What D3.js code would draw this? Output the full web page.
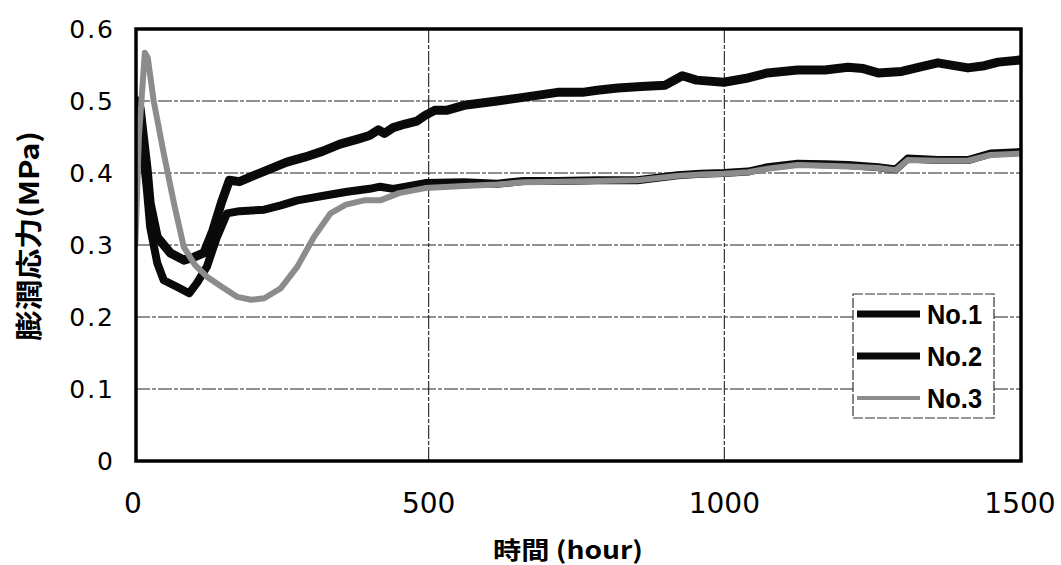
<!DOCTYPE html>
<html><head><meta charset="utf-8">
<script src="https://cdn.jsdelivr.net/npm/d3@7"></script>
<style>body{margin:0;background:#fff}</style>
</head><body>
<svg id="c" width="1061" height="565"></svg>
<script>
const seriesNames = ["No.1", "No.2", "No.3"];
const xTicks = [0, 500, 1000, 1500];
const yTicks = [0, 0.1, 0.2, 0.3, 0.4, 0.5, 0.6];
const yTickLabels = ["0", "0.1", "0.2", "0.3", "0.4", "0.5", "0.6"];

const no1T = [4, 8, 12, 24, 29, 41, 63, 86, 103, 120, 135, 150, 163, 180, 200, 230, 260, 290, 320, 350, 380, 400, 415, 425, 440, 460, 480, 494, 510, 530, 560, 616, 660, 718, 760, 785, 820, 860, 900, 929, 953, 999, 1040, 1073, 1124, 1170, 1209, 1235, 1260, 1300, 1330, 1361, 1412, 1440, 1463, 1500];
const no1V = [0.45, 0.50, 0.49, 0.404, 0.358, 0.311, 0.289, 0.279, 0.283, 0.289, 0.32, 0.36, 0.39, 0.388, 0.395, 0.405, 0.415, 0.422, 0.43, 0.44, 0.447, 0.452, 0.46, 0.455, 0.463, 0.468, 0.472, 0.48, 0.487, 0.487, 0.494, 0.50, 0.505, 0.512, 0.512, 0.515, 0.518, 0.52, 0.522, 0.535, 0.529, 0.526, 0.532, 0.539, 0.543, 0.543, 0.547, 0.545, 0.539, 0.541, 0.547, 0.553, 0.546, 0.549, 0.554, 0.557];

const no2T = [4, 10, 12, 24, 29, 41, 52, 74, 95, 108, 125, 142, 159, 180, 222, 250, 278, 320, 362, 400, 418, 440, 494, 560, 616, 660, 718, 785, 853, 921, 960, 999, 1040, 1073, 1124, 1170, 1209, 1260, 1290, 1310, 1361, 1412, 1450, 1500];
const no2V = [0.42, 0.48, 0.47, 0.372, 0.325, 0.275, 0.251, 0.242, 0.233, 0.247, 0.27, 0.311, 0.344, 0.347, 0.349, 0.355, 0.362, 0.368, 0.374, 0.378, 0.381, 0.378, 0.386, 0.387, 0.385, 0.389, 0.389, 0.39, 0.39, 0.397, 0.399, 0.40, 0.402, 0.408, 0.413, 0.412, 0.411, 0.408, 0.405, 0.42, 0.418, 0.418, 0.427, 0.429];

const no3T = [4, 10, 20, 25, 35, 52, 70, 86, 105, 125, 150, 176, 200, 222, 250, 278, 306, 334, 360, 391, 418, 450, 494, 560, 616, 660, 718, 785, 853, 921, 960, 999, 1040, 1073, 1124, 1170, 1209, 1260, 1290, 1310, 1361, 1412, 1450, 1500];
const no3V = [0.30, 0.45, 0.567, 0.56, 0.50, 0.427, 0.355, 0.297, 0.272, 0.256, 0.242, 0.228, 0.224, 0.226, 0.24, 0.27, 0.311, 0.344, 0.356, 0.362, 0.362, 0.372, 0.379, 0.382, 0.384, 0.387, 0.388, 0.389, 0.39, 0.396, 0.398, 0.399, 0.401, 0.406, 0.411, 0.41, 0.409, 0.407, 0.404, 0.418, 0.417, 0.417, 0.425, 0.427];

const svg = d3.select("#c");
const FL = 136, FR = 1021, T = 29, B = 461;
const x = d3.scaleLinear().domain([0, 1500]).range([133, 1020]);
const y = d3.scaleLinear().domain([0, 0.6]).range([B, T]);

// grid
const g = svg.append("g");
g.selectAll("line.h").data(yTicks.slice(1, -1)).join("line")
  .attr("x1", FL).attr("x2", FR).attr("y1", d => y(d)).attr("y2", d => y(d))
  .attr("stroke", "#222").attr("stroke-width", 1.1).attr("stroke-dasharray", "14,2,4,2");
g.selectAll("line.v").data(xTicks.slice(1, -1)).join("line")
  .attr("y1", T).attr("y2", B).attr("x1", d => x(d)).attr("x2", d => x(d))
  .attr("stroke", "#222").attr("stroke-width", 1.1).attr("stroke-dasharray", "14,2,4,2");

const line = d3.line().x(d => x(d[0])).y(d => y(d[1])).curve(d3.curveLinear);
const mk = (t, v) => t.map((tt, i) => [tt, v[i]]);
const series = [
  {name: seriesNames[0], data: mk(no1T, no1V), color: "#0a0a0a", w: 9},
  {name: seriesNames[1], data: mk(no2T, no2V), color: "#0a0a0a", w: 8},
  {name: seriesNames[2], data: mk(no3T, no3V), color: "#8c8c8c", w: 6}
];
svg.append("defs").append("clipPath").attr("id", "clip")
  .append("rect").attr("x", FL).attr("y", T - 5).attr("width", FR - FL).attr("height", B - T + 5);
const lg = svg.append("g").attr("clip-path", "url(#clip)");
series.forEach(s => {
  lg.append("path").datum(s.data).attr("d", line).attr("fill", "none")
    .attr("stroke", s.color).attr("stroke-width", s.w)
    .attr("stroke-linejoin", "round").attr("stroke-linecap", "round");
});

// frame
svg.append("rect").attr("x", FL).attr("y", T).attr("width", FR - FL).attr("height", B - T)
  .attr("fill", "none").attr("stroke", "#000").attr("stroke-width", 3.5);

// y tick labels
svg.selectAll("text.yt").data(yTicks).join("text")
  .attr("x", 115).attr("y", d => y(d) + 9)
  .attr("text-anchor", "end").attr("font-family", "DejaVu Sans").attr("font-size", 25)
  .attr("letter-spacing", 2)
  .attr("fill", "#000").text((d, i) => yTickLabels[i]);
// x tick labels
svg.selectAll("text.xt").data(xTicks).join("text")
  .attr("x", d => x(d)).attr("y", 513)
  .attr("text-anchor", "middle").attr("font-family", "DejaVu Sans").attr("font-size", 28)
  .attr("fill", "#000").text(d => String(d));

// axis titles
svg.append("text").attr("x", 568).attr("y", 559).attr("text-anchor", "middle")
  .attr("font-family", "Noto Sans CJK JP").attr("font-weight", "bold").attr("font-size", 24)
  .attr("textLength", 150).attr("lengthAdjust", "spacingAndGlyphs").text("時間 (hour)");
svg.append("text").attr("transform", "translate(39,236) rotate(-90)").attr("text-anchor", "middle")
  .attr("font-family", "Noto Sans CJK JP").attr("font-weight", "bold").attr("font-size", 27)
  .attr("textLength", 210).attr("lengthAdjust", "spacingAndGlyphs").text("膨潤応力(MPa)");

// legend
const leg = svg.append("g");
leg.append("rect").attr("x", 853).attr("y", 294).attr("width", 141).attr("height", 124)
  .attr("fill", "#fff").attr("stroke", "#333").attr("stroke-width", 1.2).attr("stroke-dasharray", "10,2");
series.forEach((s, i) => {
  const yy = 314 + i * 42;
  leg.append("line").attr("x1", 857).attr("x2", 920).attr("y1", yy).attr("y2", yy)
    .attr("stroke", s.color).attr("stroke-width", i === 2 ? 4 : 7);
  leg.append("text").attr("x", 927).attr("y", yy + 10).attr("font-family", "Liberation Sans")
    .attr("font-weight", "bold").attr("font-size", 28).attr("textLength", 55)
    .attr("lengthAdjust", "spacingAndGlyphs").text(s.name);
});
</script>
</body></html>
